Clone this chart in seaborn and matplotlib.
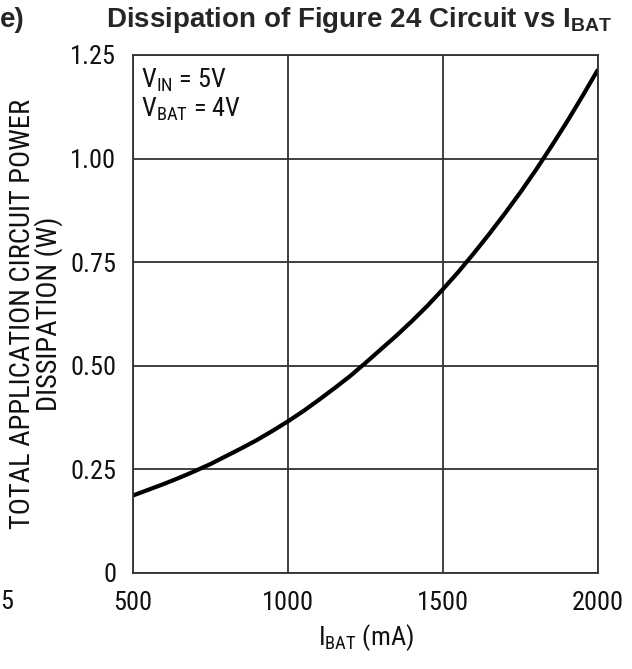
import matplotlib
matplotlib.use("Agg")
import matplotlib.pyplot as plt
from matplotlib import font_manager
import seaborn as sns
import pandas as pd

# Battery charge current (mA) and total circuit power dissipation (W)
i_bat = [500, 550, 600, 650, 700, 750, 800, 850, 900, 950,
         1000, 1050, 1100, 1150, 1200, 1250, 1300, 1350, 1400, 1450,
         1500, 1550, 1600, 1650, 1700, 1750, 1800, 1850, 1900, 1950, 2000]
p_diss = [0.187, 0.201, 0.215, 0.230, 0.246, 0.263, 0.282, 0.301, 0.321, 0.343,
          0.366, 0.391, 0.418, 0.446, 0.475, 0.507, 0.540, 0.573, 0.608, 0.645,
          0.685, 0.727, 0.772, 0.819, 0.868, 0.919, 0.973, 1.030, 1.089, 1.151, 1.215]

x_ticks = [500, 1000, 1500, 2000]
y_ticks = [0, 0.25, 0.50, 0.75, 1.00, 1.25]
y_tick_labels = ["0", "0.25", "0.50", "0.75", "1.00", "1.25"]

sns.set_style("white")
names = {f.name for f in font_manager.fontManager.ttflist}
narrow = "Roboto"
for cand in ["Liberation Sans Narrow", "Roboto Condensed", "Open Sans Condensed"]:
    if cand in names:
        narrow = cand
        break
plt.rcParams["font.family"] = [narrow, "DejaVu Sans"]
plt.rcParams["mathtext.fontset"] = "custom"
plt.rcParams["mathtext.rm"] = narrow

df = pd.DataFrame({"I_BAT (mA)": i_bat, "P (W)": p_diss})

fig = plt.figure(figsize=(6.32, 6.69), dpi=100)
ax = fig.add_axes([133 / 632, 1 - 573 / 669, 465 / 632, 518 / 669])

sns.lineplot(data=df, x="I_BAT (mA)", y="P (W)", ax=ax, color="black",
             linewidth=3.0, solid_capstyle="butt")

ax.set_xlim(500, 2000)
ax.set_ylim(0, 1.25)
ax.set_xticks(x_ticks)
ax.set_xticklabels([str(t) for t in x_ticks])
ax.set_yticks(y_ticks)
ax.set_yticklabels(y_tick_labels)
ax.tick_params(axis="both", length=0, labelsize=19, colors="#111111")
ax.tick_params(axis="y", pad=12)
ax.tick_params(axis="x", pad=13)
ax.grid(True, color="#333333", linewidth=1.3)
for s in ax.spines.values():
    s.set_color("#333333")
    s.set_linewidth(1.3)
ax.set_axisbelow(True)

ax.set_xlabel(r"I$\mathregular{_{BAT}}$ (mA)", fontsize=19, labelpad=5, color="#111111")
ax.set_ylabel("TOTAL APPLICATION CIRCUIT POWER\nDISSIPATION (W)", fontsize=20.5,
              labelpad=5, linespacing=0.92, color="#111111")

ax.text(0.018, 0.978, r"V$\mathregular{_{IN}}$ = 5V" + "\n" + r"V$\mathregular{_{BAT}}$ = 4V",
        transform=ax.transAxes, ha="left", va="top", fontsize=19,
        linespacing=1.1, color="#111111")

fig.text(612 / 632, 1 - 27 / 669, r"Dissipation of Figure 24 Circuit vs I$\mathregular{_{BAT}}$",
         ha="right", va="baseline", fontsize=20, fontweight="bold",
         family=["Liberation Sans", "DejaVu Sans"])
fig.text(0.0, 1 - 27 / 669, "e)", ha="left", va="baseline", fontsize=20,
         fontweight="bold", family=["Liberation Sans", "DejaVu Sans"])
fig.text(0.0, 1 - 609 / 669, "5", ha="left", va="baseline", fontsize=19, color="#111111")

fig.savefig("out.png", dpi=100)
